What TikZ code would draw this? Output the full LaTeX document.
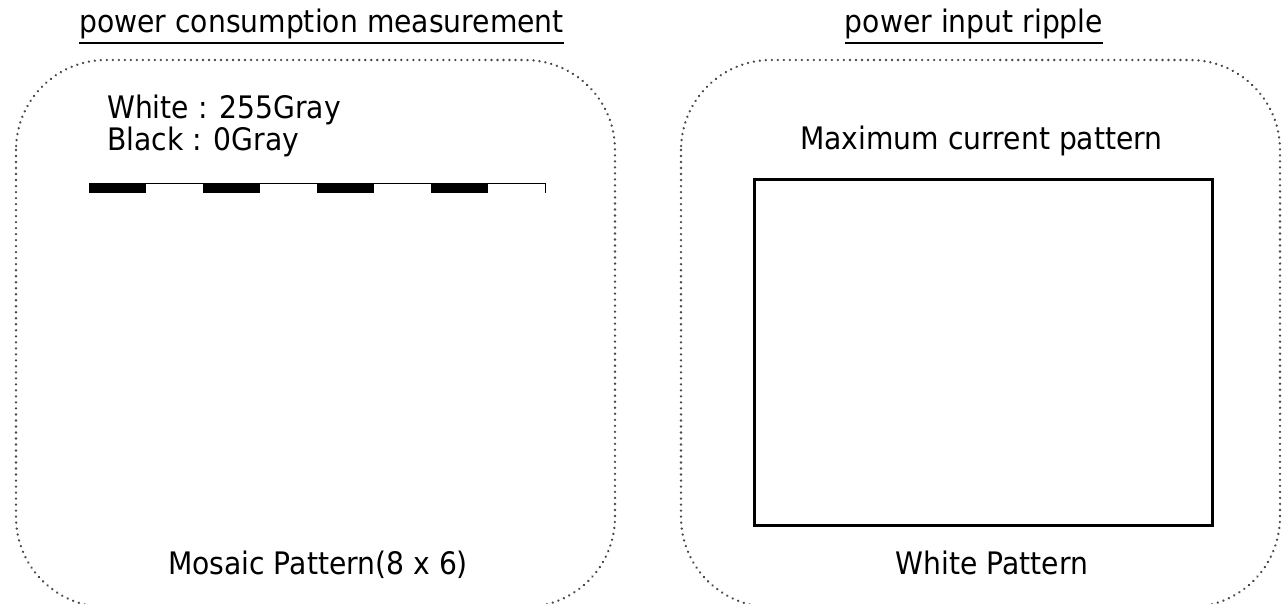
\documentclass[tikz,border=0pt]{standalone}
\usepackage{fontspec}
\setmainfont{DejaVu Sans}
\newfontfamily\tallsans[FakeStretch=0.91]{DejaVu Sans}
\begin{document}
\begin{tikzpicture}[x=1pt,y=-1pt,
  label/.style={inner sep=0pt, anchor=base, font=\tallsans\fontsize{31}{36}\selectfont},
  heading/.style={label},
  panel/.style={draw=black!72, line width=2.6pt, line cap=round,
    dash pattern=on 0.01pt off 6pt, rounded corners=90pt},
  tile/.style={fill=black, draw=none}]
\useasboundingbox (0,0) rectangle (1283,604);

% headings with underlines
\node[heading] (t1) at (321.5,33) {power consumption measurement};
\node[heading] (t2) at (974,33) {power input ripple};
\draw[line width=2pt] ([yshift=-10pt]t1.base west) -- ([yshift=-10pt]t1.base east);
\draw[line width=2pt] ([yshift=-10pt]t2.base west) -- ([yshift=-10pt]t2.base east);

% dotted rounded panels
\draw[panel] (16,60) rectangle (615,607);
\draw[panel] (681,60) rectangle (1280,607);

% left panel: grey levels and mosaic
\node[label, anchor=base west] (white) at (107,119) {White : 255Gray};
\node[label, anchor=base west] (black) at (107,151) {Black : 0Gray};
\foreach \i in {0,2,4,6}
  \fill[tile] ({89+57*\i},183) rectangle ({89+57*\i+57},193);
\draw[line width=1pt] (89,183.5) -- (545,183.5) -- (545,193);
\node[label] (mosaic) at (318,574) {Mosaic Pattern(8 x 6)};

% right panel: white field
\node[label] (maxcur) at (981.5,150) {Maximum current pattern};
\draw[line width=3pt] (754,180) rectangle (1212,525);
\node[label] (whitepat) at (992,574) {White Pattern};
\end{tikzpicture}
\end{document}
